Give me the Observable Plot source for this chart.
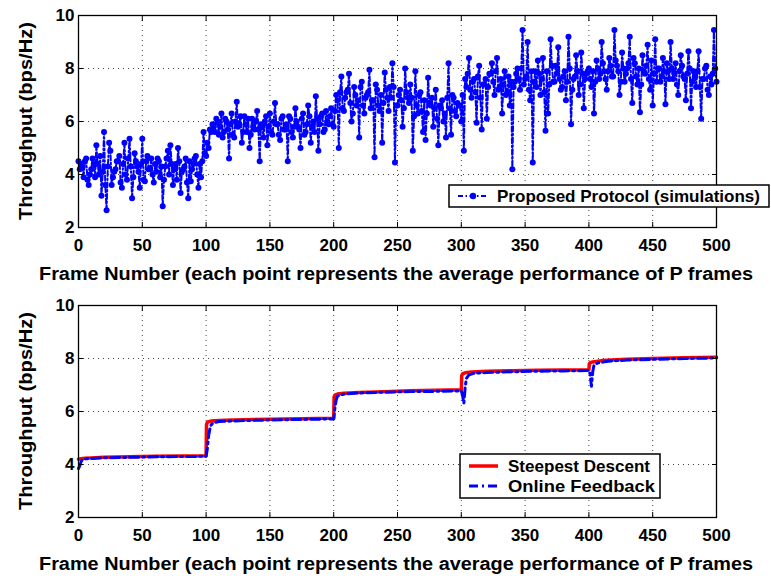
<!DOCTYPE html>
<html><head><meta charset="utf-8">
<script src="https://cdn.jsdelivr.net/npm/d3@7"></script>
<script src="https://cdn.jsdelivr.net/npm/@observablehq/plot@0.6"></script>
<style>
body{margin:0;background:#fff;}
#wrap{position:relative;width:771px;height:579px;overflow:hidden;}
#wrap svg{display:block;}
</style></head><body><div id="wrap"></div>
<script>
// ---------- data ----------
const xTicks = [0, 50, 100, 150, 200, 250, 300, 350, 400, 450, 500];
const yTicks = [2, 4, 6, 8, 10];
const xLabel = "Frame Number (each point represents the average performance of P frames";
const yLabel = "Throughput (bps/Hz)";

// top panel: proposed protocol (simulations), even frames 0,2,...,500
const simFramesEven = d3.range(0, 501, 2);
const simValuesEven = [
  4.5, 4.4, 3.9, 4.6, 3.6, 4.2, 4.4, 5.1, 4.0, 3.2, 5.6, 2.65, 5.2, 3.6, 4.1, 4.5, 4.7, 3.5, 5.2, 3.8,
  5.35, 3.1, 4.8, 4.3, 3.5, 5.35, 3.75, 4.7, 4.2, 4.0, 4.4, 4.6, 3.9, 2.8, 4.3, 4.9, 5.1, 3.6, 4.4, 5.0,
  3.3, 4.2, 4.6, 3.1, 3.75, 4.4, 4.7, 3.5, 3.9, 5.6,
  4.7, 5.0, 5.6, 5.8, 6.1, 5.5, 6.3, 5.6, 6.0, 4.6, 6.3, 5.4, 6.75, 5.9, 5.2, 6.2, 5.6, 5.0, 6.1, 5.7,
  6.4, 4.5, 5.8, 6.0, 5.1, 6.3, 5.5, 6.7, 5.9, 5.3, 6.2, 5.7, 4.5, 6.1, 5.4, 6.5, 5.8, 5.0, 6.3, 5.6,
  6.6, 5.2, 6.0, 6.95, 4.9, 6.2, 5.6, 6.4, 5.9, 6.5,
  5.8, 7.0, 5.0, 7.7, 6.4, 7.1, 7.8, 6.0, 7.3, 6.6, 5.4, 7.5, 6.3, 7.0, 7.95, 6.8, 4.65, 7.2, 6.4, 5.2,
  7.85, 6.9, 7.3, 8.2, 4.45, 6.6, 7.2, 5.8, 8.0, 6.9, 7.4, 4.9, 7.9, 6.3, 7.1, 5.6, 5.3, 7.65, 6.6, 5.8,
  7.2, 5.1, 6.5, 6.0, 5.4, 8.2, 5.5, 6.9, 6.2, 6.6,
  6.0, 4.9, 7.3, 8.4, 6.9, 7.6, 5.95, 8.1, 5.7, 7.4, 6.1, 7.8, 8.2, 7.0, 8.4, 7.3, 6.3, 7.9, 7.1, 6.6,
  4.2, 7.5, 8.0, 7.2, 9.45, 7.6, 9.0, 6.8, 4.45, 7.9, 8.3, 7.0, 8.4, 5.65, 6.3, 9.1, 7.5, 8.1, 8.8, 7.2,
  7.7, 6.8, 9.2, 5.9, 7.6, 8.5, 7.0, 8.6, 6.5, 7.8,
  8.0, 7.3, 6.3, 8.3, 7.6, 9.0, 7.9, 7.2, 8.4, 7.7, 9.45, 8.1, 7.0, 8.6, 7.5, 8.0, 9.2, 6.7, 8.2, 7.4,
  6.35, 8.5, 7.8, 8.9, 7.2, 6.6, 9.1, 8.0, 7.5, 8.4, 6.65, 7.9, 9.0, 7.6, 8.2, 7.0, 8.5, 7.7, 6.8, 8.65,
  6.5, 7.9, 7.3, 8.65, 6.1, 7.6, 8.1, 7.0, 7.4, 9.45, 7.5
];
// odd frames 1,3,...,499
const simFramesOdd = d3.range(1, 500, 2);
const simValuesOdd = [
  4.2, 4.3, 4.5, 3.8, 4.0, 4.6, 3.9, 4.4, 4.7, 4.1, 3.6, 4.3, 4.9, 3.9, 4.2, 4.5, 3.7, 4.4, 4.0, 4.6,
  4.3, 3.9, 4.5, 4.1, 4.4, 3.8, 4.5, 4.2, 4.6, 3.7, 4.1, 4.5, 4.3, 3.8, 4.6, 4.0, 4.4, 4.2, 3.8, 4.5,
  4.1, 4.3, 3.7, 4.5, 4.2, 4.6, 4.0, 4.4, 4.5, 4.8,
  5.2, 5.7, 5.9, 5.6, 6.0, 5.8, 5.4, 6.1, 5.7, 5.9, 5.5, 6.0, 5.8, 6.2, 5.6, 5.9, 6.1, 5.5, 5.8, 6.0,
  5.7, 5.9, 5.4, 6.2, 5.8, 5.6, 6.0, 5.9, 5.5, 6.1, 5.7, 5.9, 6.2, 5.6, 5.8, 6.0, 5.7, 6.1, 5.5, 5.9,
  6.2, 5.8, 5.6, 6.1, 5.9, 6.3, 5.7, 6.0, 6.2, 5.9,
  6.4, 6.8, 7.1, 6.5, 6.9, 7.2, 6.7, 6.3, 7.0, 6.8, 7.3, 6.6, 6.9, 7.1, 6.5, 6.8, 7.4, 6.6, 7.0, 6.7,
  7.2, 6.4, 6.9, 7.3, 6.6, 7.0, 6.8, 6.5, 7.1, 6.7, 6.9, 6.2, 6.6, 7.0, 6.4, 6.8, 6.3, 6.7, 6.9, 6.5,
  6.1, 6.6, 6.8, 6.3, 6.9, 6.5, 7.0, 6.4, 6.7, 6.6,
  7.0, 7.6, 7.8, 7.2, 7.5, 7.1, 7.7, 6.9, 7.4, 7.6, 7.3, 7.8, 7.5, 7.9, 7.2, 7.6, 7.4, 7.0, 7.7, 7.5,
  7.3, 7.8, 7.6, 8.0, 7.4, 7.7, 7.2, 7.9, 7.5, 7.3, 7.8, 7.6, 7.1, 7.9, 7.4, 8.1, 7.5, 7.8, 7.6, 7.3,
  7.9, 7.5, 8.0, 7.2, 7.7, 7.9, 7.4, 7.8, 7.6, 7.9,
  7.6, 7.9, 7.5, 8.0, 7.8, 8.2, 7.6, 7.9, 8.1, 7.7, 8.3, 7.9, 7.5, 8.0, 7.8, 8.2, 7.6, 8.4, 7.7, 8.0,
  7.4, 7.9, 8.1, 7.6, 8.3, 7.8, 7.5, 8.0, 7.7, 7.9, 8.2, 7.6, 8.0, 7.8, 7.4, 7.9, 8.1, 7.6, 7.8, 8.0,
  7.5, 7.7, 7.9, 7.3, 7.6, 8.0, 7.2, 7.7, 7.8, 8.0
];

// bottom panel: steepest descent
const sdFrames = [0, 2, 5, 10, 20, 40, 60, 80, 100, 100.3, 101, 103, 106, 115, 130, 150, 175, 200, 200.3, 201, 203, 208, 220, 240, 260, 280, 300, 300.3, 301, 303, 308, 320, 340, 360, 380, 400, 400.3, 401, 403, 410, 430, 450, 475, 500];
const sdValues = [4.20, 4.22, 4.24, 4.25, 4.27, 4.29, 4.31, 4.32, 4.33, 5.50, 5.60, 5.63, 5.65, 5.67, 5.69, 5.71, 5.73, 5.75, 6.55, 6.62, 6.66, 6.69, 6.72, 6.75, 6.78, 6.80, 6.82, 7.35, 7.42, 7.46, 7.49, 7.52, 7.54, 7.56, 7.57, 7.58, 7.80, 7.84, 7.87, 7.92, 7.97, 8.00, 8.03, 8.05];
// bottom panel: online feedback
const ofFrames = [0, 1, 2, 3, 5, 10, 20, 40, 60, 80, 100, 101, 102, 103, 104, 106, 110, 130, 150, 175, 200, 201, 202, 203, 205, 210, 220, 240, 260, 280, 300, 301, 302, 303, 304, 306, 310, 320, 340, 360, 380, 400, 401, 402, 403, 404, 407, 415, 430, 450, 475, 500];
const ofValues = [3.85, 3.95, 4.10, 4.18, 4.21, 4.23, 4.25, 4.27, 4.29, 4.30, 4.31, 4.60, 5.10, 5.35, 5.50, 5.58, 5.62, 5.66, 5.68, 5.70, 5.72, 6.15, 6.45, 6.58, 6.63, 6.67, 6.70, 6.73, 6.75, 6.76, 6.78, 6.60, 6.30, 6.90, 7.25, 7.38, 7.44, 7.47, 7.50, 7.52, 7.53, 7.55, 7.40, 6.95, 7.50, 7.75, 7.83, 7.90, 7.94, 7.97, 8.00, 8.02];

// ---------- build ----------
const simData = [
  ...simFramesEven.map((f, i) => ({f, v: simValuesEven[i]})),
  ...simFramesOdd.map((f, i) => ({f, v: simValuesOdd[i]}))
].sort((a, b) => a.f - b.f);
const sdData = sdFrames.map((f, i) => ({f, v: sdValues[i]}));
const ofData = ofFrames.map((f, i) => ({f, v: ofValues[i]}));

const FONT = "'Liberation Sans', Arial, Helvetica, sans-serif";
const W = 771;

function decor() {
  const grid = {stroke: "#000", strokeOpacity: 0.75, strokeDasharray: "1,4", strokeWidth: 1};
  return [
    Plot.gridX(xTicks, grid),
    Plot.gridY(yTicks, grid),
  ];
}
function axes() {
  const ax = {label: null, strokeWidth: 1, fontSize: 17};
  return [
    Plot.axisX(xTicks, {...ax, anchor: "bottom", tickSize: -5, tickPadding: 16, tickFormat: d => String(d)}),
    Plot.axisX(xTicks, {...ax, anchor: "top", tickSize: -5, tickFormat: () => ""}),
    Plot.axisY(yTicks, {...ax, anchor: "left", tickSize: -5, tickPadding: 9, tickFormat: d => String(d)}),
    Plot.axisY(yTicks, {...ax, anchor: "right", tickSize: -5, tickFormat: () => ""}),
    Plot.frame({stroke: "#000", strokeWidth: 1.3})
  ];
}
function base(h, marks) {
  return Plot.plot({
    width: W, height: h,
    marginLeft: 78, marginRight: 55, marginTop: 15, marginBottom: h - 227,
    x: {domain: [0, 500]},
    y: {domain: [2, 10]},
    style: {fontFamily: FONT, fontWeight: "bold", fontSize: "17px", color: "#000", background: "#fff", overflow: "visible"},
    marks: [...decor(), ...marks, ...axes()]
  });
}

function txt(sel, x, y, size, len, s) {
  return sel.append("text").attr("x", x).attr("y", y).attr("text-anchor", "start")
    .attr("font-family", FONT).attr("font-weight", "bold").attr("font-size", size)
    .attr("textLength", len).attr("lengthAdjust", "spacingAndGlyphs").attr("fill", "#000").text(s);
}

function addLabels(svg) {
  const s = d3.select(svg);
  txt(s, 39, 280, 18, 714, xLabel);
  txt(s, 0, 0, 18, 198, yLabel).attr("transform", "translate(32,220) rotate(-90)");
}

const topChart = base(290, [
  Plot.line(simData, {x: "f", y: "v", stroke: "#0000ff", strokeWidth: 2, strokeDasharray: "5,2.5,1.5,2.5"}),
  Plot.dot(simData, {x: "f", y: "v", r: 3, fill: "#0000ff", stroke: "none"})
]);
addLabels(topChart);
{
  const g = d3.select(topChart).append("g");
  g.append("rect").attr("x", 449).attr("y", 185).attr("width", 320).attr("height", 22)
    .attr("fill", "#fff").attr("stroke", "#000").attr("stroke-width", 1.5);
  g.append("line").attr("x1", 458).attr("x2", 488).attr("y1", 196).attr("y2", 196)
    .attr("stroke", "#0000ff").attr("stroke-width", 2).attr("stroke-dasharray", "5,2.5,1.5,2.5");
  g.append("circle").attr("cx", 473).attr("cy", 196).attr("r", 3.2).attr("fill", "#0000ff");
  txt(g, 497, 202, 17, 263, "Proposed Protocol (simulations)");
}

const bottomChart = base(289, [
  Plot.line(sdData, {x: "f", y: "v", stroke: "#ff0000", strokeWidth: 3.5}),
  Plot.line(ofData, {x: "f", y: "v", stroke: "#0000ff", strokeWidth: 3, strokeDasharray: "9,4,2,4"})
]);
addLabels(bottomChart);
{
  const g = d3.select(bottomChart).append("g");
  g.append("rect").attr("x", 460).attr("y", 164).attr("width", 200).attr("height", 44)
    .attr("fill", "#fff").attr("stroke", "#000").attr("stroke-width", 1.5);
  g.append("line").attr("x1", 469).attr("x2", 498).attr("y1", 176).attr("y2", 176)
    .attr("stroke", "#ff0000").attr("stroke-width", 3.5);
  g.append("line").attr("x1", 469).attr("x2", 498).attr("y1", 196).attr("y2", 196)
    .attr("stroke", "#0000ff").attr("stroke-width", 3).attr("stroke-dasharray", "9,4,2,4");
  txt(g, 508, 182, 17, 142, "Steepest Descent");
  txt(g, 508, 202, 17, 147, "Online Feedback");
}

const wrap = document.getElementById("wrap");
wrap.appendChild(topChart);
wrap.appendChild(bottomChart);
</script></body></html>
